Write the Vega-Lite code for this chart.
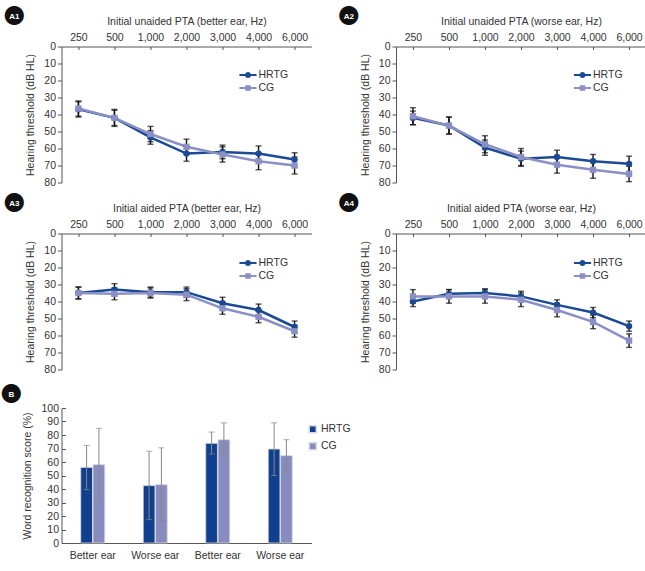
{
  "$schema": "https://vega.github.io/schema/vega-lite/v6.json",
  "padding": {"left": 0.5, "top": 1.5, "right": 0, "bottom": 0},
  "background": "white",
  "config": {
    "font": "Liberation Sans",
    "view": {"stroke": null},
    "axis": {"labelFontSize": 10.5, "labelColor": "#333333", "titleFontSize": 10.5, "titleFontWeight": "normal", "titleColor": "#333333", "domainColor": "#555555", "tickColor": "#555555", "grid": false, "labelFont": "Liberation Sans", "titleFont": "Liberation Sans"},
    "legend": {"labelFont": "Liberation Sans", "labelFontSize": 10.5, "labelColor": "#333333"},
    "title": {"font": "DejaVu Sans", "subtitleFont": "Liberation Sans"}
  },
  "datasets": {
    "a1": [
      {"freq": "250", "group": "HRTG", "mean": 37, "lo": 32.5, "hi": 41.5},
      {"freq": "500", "group": "HRTG", "mean": 42, "lo": 37.5, "hi": 46.5},
      {"freq": "1,000", "group": "HRTG", "mean": 53.5, "lo": 49.5, "hi": 57.5},
      {"freq": "2,000", "group": "HRTG", "mean": 63, "lo": 58.5, "hi": 67.5},
      {"freq": "3,000", "group": "HRTG", "mean": 62, "lo": 58, "hi": 66},
      {"freq": "4,000", "group": "HRTG", "mean": 63, "lo": 58.5, "hi": 67.5},
      {"freq": "6,000", "group": "HRTG", "mean": 66.5, "lo": 62.5, "hi": 70.5},
      {"freq": "250", "group": "CG", "mean": 36.5, "lo": 32, "hi": 41},
      {"freq": "500", "group": "CG", "mean": 42, "lo": 37, "hi": 47},
      {"freq": "1,000", "group": "CG", "mean": 51.5, "lo": 47, "hi": 56},
      {"freq": "2,000", "group": "CG", "mean": 59, "lo": 54.5, "hi": 63.5},
      {"freq": "3,000", "group": "CG", "mean": 63.5, "lo": 59, "hi": 68},
      {"freq": "4,000", "group": "CG", "mean": 67.5, "lo": 62.5, "hi": 72.5},
      {"freq": "6,000", "group": "CG", "mean": 70, "lo": 65, "hi": 75}
    ],
    "a2": [
      {"freq": "250", "group": "HRTG", "mean": 42, "lo": 38, "hi": 46},
      {"freq": "500", "group": "HRTG", "mean": 46.5, "lo": 41.5, "hi": 51.5},
      {"freq": "1,000", "group": "HRTG", "mean": 59.5, "lo": 55, "hi": 64},
      {"freq": "2,000", "group": "HRTG", "mean": 66, "lo": 61.5, "hi": 70.5},
      {"freq": "3,000", "group": "HRTG", "mean": 65, "lo": 61, "hi": 69},
      {"freq": "4,000", "group": "HRTG", "mean": 67.5, "lo": 63.5, "hi": 71.5},
      {"freq": "6,000", "group": "HRTG", "mean": 69, "lo": 64.5, "hi": 73.5},
      {"freq": "250", "group": "CG", "mean": 41, "lo": 36, "hi": 46},
      {"freq": "500", "group": "CG", "mean": 46.5, "lo": 41.5, "hi": 51.5},
      {"freq": "1,000", "group": "CG", "mean": 57.5, "lo": 52.5, "hi": 62.5},
      {"freq": "2,000", "group": "CG", "mean": 65, "lo": 60, "hi": 70},
      {"freq": "3,000", "group": "CG", "mean": 69.5, "lo": 64.5, "hi": 74.5},
      {"freq": "4,000", "group": "CG", "mean": 72.5, "lo": 67.5, "hi": 77.5},
      {"freq": "6,000", "group": "CG", "mean": 75, "lo": 70.5, "hi": 79.5}
    ],
    "a3": [
      {"freq": "250", "group": "HRTG", "mean": 35, "lo": 31.5, "hi": 38.5},
      {"freq": "500", "group": "HRTG", "mean": 33, "lo": 29.5, "hi": 36.5},
      {"freq": "1,000", "group": "HRTG", "mean": 34.5, "lo": 31.5, "hi": 37.5},
      {"freq": "2,000", "group": "HRTG", "mean": 34.5, "lo": 31.5, "hi": 37.5},
      {"freq": "3,000", "group": "HRTG", "mean": 41, "lo": 37.5, "hi": 44.5},
      {"freq": "4,000", "group": "HRTG", "mean": 45, "lo": 41.5, "hi": 48.5},
      {"freq": "6,000", "group": "HRTG", "mean": 55, "lo": 51.5, "hi": 58.5},
      {"freq": "250", "group": "CG", "mean": 35, "lo": 31.5, "hi": 38.5},
      {"freq": "500", "group": "CG", "mean": 35.5, "lo": 32, "hi": 39},
      {"freq": "1,000", "group": "CG", "mean": 35, "lo": 32, "hi": 38},
      {"freq": "2,000", "group": "CG", "mean": 36, "lo": 32.5, "hi": 39.5},
      {"freq": "3,000", "group": "CG", "mean": 44, "lo": 40.5, "hi": 47.5},
      {"freq": "4,000", "group": "CG", "mean": 49, "lo": 45.5, "hi": 52.5},
      {"freq": "6,000", "group": "CG", "mean": 57.5, "lo": 54, "hi": 61}
    ],
    "a4": [
      {"freq": "250", "group": "HRTG", "mean": 40, "lo": 37, "hi": 43},
      {"freq": "500", "group": "HRTG", "mean": 35.5, "lo": 33, "hi": 38},
      {"freq": "1,000", "group": "HRTG", "mean": 35, "lo": 32.5, "hi": 37.5},
      {"freq": "2,000", "group": "HRTG", "mean": 37, "lo": 34, "hi": 40},
      {"freq": "3,000", "group": "HRTG", "mean": 42, "lo": 39, "hi": 45},
      {"freq": "4,000", "group": "HRTG", "mean": 46.5, "lo": 43.5, "hi": 49.5},
      {"freq": "6,000", "group": "HRTG", "mean": 54.5, "lo": 51.5, "hi": 57.5},
      {"freq": "250", "group": "CG", "mean": 37, "lo": 33, "hi": 41},
      {"freq": "500", "group": "CG", "mean": 37, "lo": 33, "hi": 41},
      {"freq": "1,000", "group": "CG", "mean": 37, "lo": 33, "hi": 41},
      {"freq": "2,000", "group": "CG", "mean": 39, "lo": 35, "hi": 43},
      {"freq": "3,000", "group": "CG", "mean": 45, "lo": 41, "hi": 49},
      {"freq": "4,000", "group": "CG", "mean": 52, "lo": 48, "hi": 56},
      {"freq": "6,000", "group": "CG", "mean": 63, "lo": 59, "hi": 67}
    ],
    "b": [
      {"cond": "Unaided|Better ear", "group": "HRTG", "mean": 56, "lo": 39.5, "hi": 72.3},
      {"cond": "Unaided|Better ear", "group": "CG", "mean": 58, "lo": 31, "hi": 85},
      {"cond": "Unaided|Worse ear", "group": "HRTG", "mean": 42.5, "lo": 17.3, "hi": 68},
      {"cond": "Unaided|Worse ear", "group": "CG", "mean": 43.2, "lo": 16, "hi": 70.5},
      {"cond": "Aided|Better ear", "group": "HRTG", "mean": 73.8, "lo": 65.9, "hi": 82.2},
      {"cond": "Aided|Better ear", "group": "CG", "mean": 76.5, "lo": 64.7, "hi": 89},
      {"cond": "Aided|Worse ear", "group": "HRTG", "mean": 69.6, "lo": 50, "hi": 89},
      {"cond": "Aided|Worse ear", "group": "CG", "mean": 64.7, "lo": 52.6, "hi": 76.5}
    ]
  },
  "spacing": 4.5,
  "resolve": {"scale": {"color": "independent", "shape": "independent"}, "legend": {"color": "independent", "shape": "independent"}},
  "vconcat": [
    {
      "spacing": 0,
      "resolve": {"scale": {"color": "independent", "shape": "independent"}, "legend": {"color": "independent", "shape": "independent"}},
      "vconcat": [
        {
          "spacing": 25.5,
          "resolve": {"scale": {"color": "independent", "shape": "independent"}, "legend": {"color": "independent", "shape": "independent"}},
          "hconcat": [
            {
              "width": 250, "height": 136,
              "title": {"text": "●", "subtitle": "A1", "anchor": "start", "align": "center", "frame": "bounds", "fontSize": 25, "color": "#111111", "subtitleColor": "#ffffff", "subtitleFontSize": 8, "subtitleFontWeight": "bold", "subtitlePadding": -14, "dx": -11.5, "dy": 10.5, "offset": 0},
              "data": {"name": "a1"},
              "encoding": {
                "x": {"field": "freq", "type": "ordinal", "sort": ["250", "500", "1,000", "2,000", "3,000", "4,000", "6,000"], "scale": {"type": "point", "padding": 0.47}, "axis": {"orient": "top", "title": "Initial unaided PTA (better ear, Hz)", "labelAngle": 0, "tickSize": -3, "labelPadding": 7, "titlePadding": 6}},
                "y": {"field": "mean", "type": "quantitative", "scale": {"domain": [0, 80], "reverse": true, "nice": false, "zero": false}, "axis": {"title": "Hearing threshold (dB HL)", "values": [0, 10, 20, 30, 40, 50, 60, 70, 80], "labelOverlap": false, "tickSize": 4, "titlePadding": 8}}
              },
              "layer": [
                {"mark": {"type": "point", "filled": true, "size": 0}, "encoding": {
                  "color": {"field": "group", "type": "nominal", "scale": {"domain": ["HRTG", "CG"], "range": ["#1b4a94", "#8a90c6"]}, "legend": {"title": null, "orient": "none", "legendX": 180, "legendY": 22, "symbolSize": 150, "symbolOpacity": 1, "symbolStrokeWidth": 0, "rowPadding": 1, "labelOffset": 4}},
                  "shape": {"field": "group", "type": "nominal", "scale": {"domain": ["HRTG", "CG"], "range": ["M-1.4,-0.17H1.4V0.17H-1.4Z M-0.5,0A0.5,0.5 0 1,1 0.5,0A0.5,0.5 0 1,1 -0.5,0Z", "M-1.4,-0.17H1.4V0.17H-1.4Z M-0.45,-0.45H0.45V0.45H-0.45Z"]}, "legend": {"title": null, "orient": "none", "legendX": 180, "legendY": 22, "symbolSize": 150, "symbolOpacity": 1, "symbolStrokeWidth": 0, "rowPadding": 1, "labelOffset": 4}}}},
                {"transform": [{"filter": "datum.group === 'HRTG'"}], "mark": {"type": "line", "strokeWidth": 2.5, "color": "#1b4a94"}, "encoding": {}},
                {"transform": [{"filter": "datum.group === 'CG'"}], "mark": {"type": "line", "strokeWidth": 2.5, "color": "#8a90c6"}, "encoding": {}},
                {"mark": {"type": "errorbar", "ticks": {"size": 6}, "color": "#111111", "thickness": 1.4}, "encoding": {"y": {"field": "lo", "type": "quantitative", "scale": {"domain": [0, 80], "reverse": true, "nice": false, "zero": false}, "axis": {"title": "Hearing threshold (dB HL)", "values": [0, 10, 20, 30, 40, 50, 60, 70, 80], "labelOverlap": false, "tickSize": 4, "titlePadding": 8}}, "y2": {"field": "hi"}, "detail": {"field": "group"}}},
                {"transform": [{"filter": "datum.group === 'HRTG'"}], "mark": {"type": "point", "shape": "circle", "filled": true, "size": 40, "color": "#1b4a94", "opacity": 1}},
                {"transform": [{"filter": "datum.group === 'CG'"}], "mark": {"type": "point", "shape": "square", "filled": true, "size": 40, "color": "#8a90c6", "opacity": 1}}
              ]
            },
            {
              "width": 250, "height": 136,
              "title": {"text": "●", "subtitle": "A2", "anchor": "start", "align": "center", "frame": "bounds", "fontSize": 25, "color": "#111111", "subtitleColor": "#ffffff", "subtitleFontSize": 8, "subtitleFontWeight": "bold", "subtitlePadding": -14, "dx": -11.5, "dy": 10.5, "offset": 0},
              "data": {"name": "a2"},
              "encoding": {
                "x": {"field": "freq", "type": "ordinal", "sort": ["250", "500", "1,000", "2,000", "3,000", "4,000", "6,000"], "scale": {"type": "point", "padding": 0.47}, "axis": {"orient": "top", "title": "Initial unaided PTA (worse ear, Hz)", "labelAngle": 0, "tickSize": -3, "labelPadding": 7, "titlePadding": 6}},
                "y": {"field": "mean", "type": "quantitative", "scale": {"domain": [0, 80], "reverse": true, "nice": false, "zero": false}, "axis": {"title": "Hearing threshold (dB HL)", "values": [0, 10, 20, 30, 40, 50, 60, 70, 80], "labelOverlap": false, "tickSize": 4, "titlePadding": 8}}
              },
              "layer": [
                {"mark": {"type": "point", "filled": true, "size": 0}, "encoding": {
                  "color": {"field": "group", "type": "nominal", "scale": {"domain": ["HRTG", "CG"], "range": ["#1b4a94", "#8a90c6"]}, "legend": {"title": null, "orient": "none", "legendX": 180, "legendY": 22, "symbolSize": 150, "symbolOpacity": 1, "symbolStrokeWidth": 0, "rowPadding": 1, "labelOffset": 4}},
                  "shape": {"field": "group", "type": "nominal", "scale": {"domain": ["HRTG", "CG"], "range": ["M-1.4,-0.17H1.4V0.17H-1.4Z M-0.5,0A0.5,0.5 0 1,1 0.5,0A0.5,0.5 0 1,1 -0.5,0Z", "M-1.4,-0.17H1.4V0.17H-1.4Z M-0.45,-0.45H0.45V0.45H-0.45Z"]}, "legend": {"title": null, "orient": "none", "legendX": 180, "legendY": 22, "symbolSize": 150, "symbolOpacity": 1, "symbolStrokeWidth": 0, "rowPadding": 1, "labelOffset": 4}}}},
                {"transform": [{"filter": "datum.group === 'HRTG'"}], "mark": {"type": "line", "strokeWidth": 2.5, "color": "#1b4a94"}, "encoding": {}},
                {"transform": [{"filter": "datum.group === 'CG'"}], "mark": {"type": "line", "strokeWidth": 2.5, "color": "#8a90c6"}, "encoding": {}},
                {"mark": {"type": "errorbar", "ticks": {"size": 6}, "color": "#111111", "thickness": 1.4}, "encoding": {"y": {"field": "lo", "type": "quantitative", "scale": {"domain": [0, 80], "reverse": true, "nice": false, "zero": false}, "axis": {"title": "Hearing threshold (dB HL)", "values": [0, 10, 20, 30, 40, 50, 60, 70, 80], "labelOverlap": false, "tickSize": 4, "titlePadding": 8}}, "y2": {"field": "hi"}, "detail": {"field": "group"}}},
                {"transform": [{"filter": "datum.group === 'HRTG'"}], "mark": {"type": "point", "shape": "circle", "filled": true, "size": 40, "color": "#1b4a94", "opacity": 1}},
                {"transform": [{"filter": "datum.group === 'CG'"}], "mark": {"type": "point", "shape": "square", "filled": true, "size": 40, "color": "#8a90c6", "opacity": 1}}
              ]
            }
          ]
        },
        {
          "spacing": 25.5,
          "resolve": {"scale": {"color": "independent", "shape": "independent"}, "legend": {"color": "independent", "shape": "independent"}},
          "hconcat": [
            {
              "width": 250, "height": 136,
              "title": {"text": "●", "subtitle": "A3", "anchor": "start", "align": "center", "frame": "bounds", "fontSize": 25, "color": "#111111", "subtitleColor": "#ffffff", "subtitleFontSize": 8, "subtitleFontWeight": "bold", "subtitlePadding": -14, "dx": -11.5, "dy": 10.5, "offset": 0},
              "data": {"name": "a3"},
              "encoding": {
                "x": {"field": "freq", "type": "ordinal", "sort": ["250", "500", "1,000", "2,000", "3,000", "4,000", "6,000"], "scale": {"type": "point", "padding": 0.47}, "axis": {"orient": "top", "title": "Initial aided PTA (better ear, Hz)", "labelAngle": 0, "tickSize": -3, "labelPadding": 7, "titlePadding": 6}},
                "y": {"field": "mean", "type": "quantitative", "scale": {"domain": [0, 80], "reverse": true, "nice": false, "zero": false}, "axis": {"title": "Hearing threshold (dB HL)", "values": [0, 10, 20, 30, 40, 50, 60, 70, 80], "labelOverlap": false, "tickSize": 4, "titlePadding": 8}}
              },
              "layer": [
                {"mark": {"type": "point", "filled": true, "size": 0}, "encoding": {
                  "color": {"field": "group", "type": "nominal", "scale": {"domain": ["HRTG", "CG"], "range": ["#1b4a94", "#8a90c6"]}, "legend": {"title": null, "orient": "none", "legendX": 180, "legendY": 23, "symbolSize": 150, "symbolOpacity": 1, "symbolStrokeWidth": 0, "rowPadding": 1, "labelOffset": 4}},
                  "shape": {"field": "group", "type": "nominal", "scale": {"domain": ["HRTG", "CG"], "range": ["M-1.4,-0.17H1.4V0.17H-1.4Z M-0.5,0A0.5,0.5 0 1,1 0.5,0A0.5,0.5 0 1,1 -0.5,0Z", "M-1.4,-0.17H1.4V0.17H-1.4Z M-0.45,-0.45H0.45V0.45H-0.45Z"]}, "legend": {"title": null, "orient": "none", "legendX": 180, "legendY": 23, "symbolSize": 150, "symbolOpacity": 1, "symbolStrokeWidth": 0, "rowPadding": 1, "labelOffset": 4}}}},
                {"transform": [{"filter": "datum.group === 'HRTG'"}], "mark": {"type": "line", "strokeWidth": 2.5, "color": "#1b4a94"}, "encoding": {}},
                {"transform": [{"filter": "datum.group === 'CG'"}], "mark": {"type": "line", "strokeWidth": 2.5, "color": "#8a90c6"}, "encoding": {}},
                {"mark": {"type": "errorbar", "ticks": {"size": 6}, "color": "#111111", "thickness": 1.4}, "encoding": {"y": {"field": "lo", "type": "quantitative", "scale": {"domain": [0, 80], "reverse": true, "nice": false, "zero": false}, "axis": {"title": "Hearing threshold (dB HL)", "values": [0, 10, 20, 30, 40, 50, 60, 70, 80], "labelOverlap": false, "tickSize": 4, "titlePadding": 8}}, "y2": {"field": "hi"}, "detail": {"field": "group"}}},
                {"transform": [{"filter": "datum.group === 'HRTG'"}], "mark": {"type": "point", "shape": "circle", "filled": true, "size": 40, "color": "#1b4a94", "opacity": 1}},
                {"transform": [{"filter": "datum.group === 'CG'"}], "mark": {"type": "point", "shape": "square", "filled": true, "size": 40, "color": "#8a90c6", "opacity": 1}}
              ]
            },
            {
              "width": 250, "height": 136,
              "title": {"text": "●", "subtitle": "A4", "anchor": "start", "align": "center", "frame": "bounds", "fontSize": 25, "color": "#111111", "subtitleColor": "#ffffff", "subtitleFontSize": 8, "subtitleFontWeight": "bold", "subtitlePadding": -14, "dx": -11.5, "dy": 10.5, "offset": 0},
              "data": {"name": "a4"},
              "encoding": {
                "x": {"field": "freq", "type": "ordinal", "sort": ["250", "500", "1,000", "2,000", "3,000", "4,000", "6,000"], "scale": {"type": "point", "padding": 0.47}, "axis": {"orient": "top", "title": "Initial aided PTA (worse ear, Hz)", "labelAngle": 0, "tickSize": -3, "labelPadding": 7, "titlePadding": 6}},
                "y": {"field": "mean", "type": "quantitative", "scale": {"domain": [0, 80], "reverse": true, "nice": false, "zero": false}, "axis": {"title": "Hearing threshold (dB HL)", "values": [0, 10, 20, 30, 40, 50, 60, 70, 80], "labelOverlap": false, "tickSize": 4, "titlePadding": 8}}
              },
              "layer": [
                {"mark": {"type": "point", "filled": true, "size": 0}, "encoding": {
                  "color": {"field": "group", "type": "nominal", "scale": {"domain": ["HRTG", "CG"], "range": ["#1b4a94", "#8a90c6"]}, "legend": {"title": null, "orient": "none", "legendX": 180, "legendY": 23, "symbolSize": 150, "symbolOpacity": 1, "symbolStrokeWidth": 0, "rowPadding": 1, "labelOffset": 4}},
                  "shape": {"field": "group", "type": "nominal", "scale": {"domain": ["HRTG", "CG"], "range": ["M-1.4,-0.17H1.4V0.17H-1.4Z M-0.5,0A0.5,0.5 0 1,1 0.5,0A0.5,0.5 0 1,1 -0.5,0Z", "M-1.4,-0.17H1.4V0.17H-1.4Z M-0.45,-0.45H0.45V0.45H-0.45Z"]}, "legend": {"title": null, "orient": "none", "legendX": 180, "legendY": 23, "symbolSize": 150, "symbolOpacity": 1, "symbolStrokeWidth": 0, "rowPadding": 1, "labelOffset": 4}}}},
                {"transform": [{"filter": "datum.group === 'HRTG'"}], "mark": {"type": "line", "strokeWidth": 2.5, "color": "#1b4a94"}, "encoding": {}},
                {"transform": [{"filter": "datum.group === 'CG'"}], "mark": {"type": "line", "strokeWidth": 2.5, "color": "#8a90c6"}, "encoding": {}},
                {"mark": {"type": "errorbar", "ticks": {"size": 6}, "color": "#111111", "thickness": 1.4}, "encoding": {"y": {"field": "lo", "type": "quantitative", "scale": {"domain": [0, 80], "reverse": true, "nice": false, "zero": false}, "axis": {"title": "Hearing threshold (dB HL)", "values": [0, 10, 20, 30, 40, 50, 60, 70, 80], "labelOverlap": false, "tickSize": 4, "titlePadding": 8}}, "y2": {"field": "hi"}, "detail": {"field": "group"}}},
                {"transform": [{"filter": "datum.group === 'HRTG'"}], "mark": {"type": "point", "shape": "circle", "filled": true, "size": 40, "color": "#1b4a94", "opacity": 1}},
                {"transform": [{"filter": "datum.group === 'CG'"}], "mark": {"type": "point", "shape": "square", "filled": true, "size": 40, "color": "#8a90c6", "opacity": 1}}
              ]
            }
          ]
        }
      ]
    },
    {
      "width": 250, "height": 135,
      "title": {"text": "●", "subtitle": "B", "anchor": "start", "align": "center", "frame": "bounds", "fontSize": 25, "color": "#111111", "subtitleColor": "#ffffff", "subtitleFontSize": 8, "subtitleFontWeight": "bold", "subtitlePadding": -14, "dx": -11.5, "dy": 2, "offset": 0},
      "data": {"name": "b"},
      "encoding": {
        "x": {"field": "cond", "type": "nominal", "sort": ["Unaided|Better ear", "Unaided|Worse ear", "Aided|Better ear", "Aided|Worse ear"], "scale": {"paddingInner": 0.616, "paddingOuter": 0.308}, "axis": {"title": null, "labelAngle": 0, "ticks": false, "labelPadding": 7, "labelExpr": "split(datum.value, '|')[1]"}},
        "xOffset": {"field": "group", "type": "nominal", "sort": ["HRTG", "CG"], "scale": {"paddingInner": 0.05}},
        "y": {"field": "mean", "type": "quantitative", "scale": {"domain": [0, 100], "nice": false}, "axis": {"title": "Word recognition score (%)", "values": [0, 10, 20, 30, 40, 50, 60, 70, 80, 90, 100], "labelOverlap": false, "tickSize": -4, "labelPadding": 7, "titlePadding": 8}}
      },
      "layer": [
        {"mark": {"type": "bar", "stroke": "#d8d8e0", "strokeWidth": 0.8}, "encoding": {
          "color": {"field": "group", "type": "nominal", "scale": {"domain": ["HRTG", "CG"], "range": ["#0f3f8d", "#878cbf"]}, "legend": {"title": null, "orient": "none", "legendX": 246, "legendY": 16, "symbolType": "square", "symbolSize": 50, "rowPadding": 3, "labelOffset": 3}}}},
        {"mark": {"type": "errorbar", "ticks": {"size": 6}, "color": "#888888", "thickness": 1}, "encoding": {"y": {"field": "lo", "type": "quantitative", "scale": {"domain": [0, 100], "nice": false}, "axis": {"title": "Word recognition score (%)", "values": [0, 10, 20, 30, 40, 50, 60, 70, 80, 90, 100], "labelOverlap": false, "tickSize": -4, "labelPadding": 7, "titlePadding": 8}}, "y2": {"field": "hi"}}}
      ]
    }
  ]
}
